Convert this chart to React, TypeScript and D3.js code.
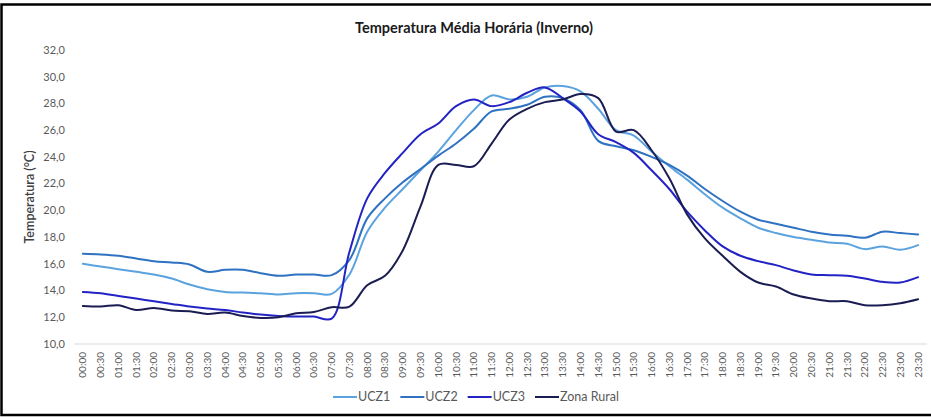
import React from 'react';
import * as d3 from 'd3';

const hours: string[] = [
  '00:00', '00:30', '01:00', '01:30', '02:00', '02:30', '03:00', '03:30',
  '04:00', '04:30', '05:00', '05:30', '06:00', '06:30', '07:00', '07:30',
  '08:00', '08:30', '09:00', '09:30', '10:00', '10:30', '11:00', '11:30',
  '12:00', '12:30', '13:00', '13:30', '14:00', '14:30', '15:00', '15:30',
  '16:00', '16:30', '17:00', '17:30', '18:00', '18:30', '19:00', '19:30',
  '20:00', '20:30', '21:00', '21:30', '22:00', '22:30', '23:00', '23:30',
];

const ucz1 = [
  16.0, 15.8, 15.6, 15.4, 15.2, 14.9, 14.45, 14.1, 13.9, 13.85, 13.8, 13.7,
  13.8, 13.8, 13.75, 15.2, 18.4, 20.2, 21.6, 23.0, 24.4, 26.0, 27.5, 28.6,
  28.3, 28.5, 29.2, 29.3, 28.9, 27.6, 26.0, 25.6, 24.4, 23.3, 22.3, 21.2,
  20.2, 19.4, 18.7, 18.3, 18.0, 17.8, 17.6, 17.5, 17.1, 17.3, 17.05, 17.4,
];

const ucz2 = [
  16.75, 16.7, 16.6, 16.4, 16.2, 16.1, 15.95, 15.4, 15.55, 15.55, 15.3, 15.1,
  15.2, 15.2, 15.15, 16.3, 19.4, 20.9, 22.1, 23.1, 24.1, 25.0, 26.1, 27.4,
  27.6, 27.9, 28.5, 28.4, 27.5, 25.2, 24.8, 24.5, 24.0, 23.4, 22.6, 21.6,
  20.7, 19.9, 19.3, 19.0, 18.7, 18.4, 18.2, 18.1, 17.95, 18.4, 18.3, 18.2,
];

const ucz3 = [
  13.9, 13.8, 13.6, 13.4, 13.2, 13.0, 12.8, 12.65, 12.55, 12.35, 12.2, 12.1,
  12.05, 12.05, 11.9, 16.9, 20.9, 22.8, 24.3, 25.7, 26.5, 27.8, 28.3, 27.8,
  28.1, 28.8, 29.2, 28.4, 27.4, 25.7, 25.1, 24.3, 23.0, 21.6, 19.9, 18.5,
  17.3, 16.6, 16.2, 15.9, 15.5, 15.2, 15.15, 15.1, 14.9, 14.65, 14.6, 15.0,
];

const zonaRural = [
  12.85, 12.8, 12.9, 12.55, 12.7, 12.5, 12.45, 12.25, 12.35, 12.1, 11.95, 12.0,
  12.3, 12.4, 12.75, 12.8, 14.4, 15.1, 17.0, 20.3, 23.4, 23.4, 23.3, 25.0,
  26.8, 27.6, 28.1, 28.3, 28.7, 28.4, 25.9, 26.0, 24.5, 22.4, 19.7, 17.9,
  16.6, 15.4, 14.6, 14.3, 13.7, 13.4, 13.2, 13.2, 12.9, 12.9, 13.05, 13.35,
];

const yTicks = [10, 12, 14, 16, 18, 20, 22, 24, 26, 28, 30, 32];

const series = [
  { name: 'UCZ1', values: ucz1, color: '#5ba3df' },
  { name: 'UCZ2', values: ucz2, color: '#2f72c2' },
  { name: 'UCZ3', values: ucz3, color: '#2323c4' },
  { name: 'Zona Rural', values: zonaRural, color: '#1b1d52' },
];

const W = 931;
const H = 417;
const plot = { left: 74, right: 927, top: 50, bottom: 344 };
const font = 'Lato, "Open Sans", sans-serif';

export default function App() {
  const x = d3.scaleBand<string>()
    .domain(hours)
    .range([plot.left, plot.right]);
  const cx = (h: string) => (x(h) ?? 0) + x.bandwidth() / 2;

  const y = d3.scaleLinear()
    .domain([10, 32])
    .range([plot.bottom, plot.top]);

  const line = d3.line<number>()
    .x((_, i) => cx(hours[i]))
    .y(d => y(d))
    .curve(d3.curveCatmullRom.alpha(0.5));

  // legend items laid out along a point scale, centred under the plot
  const legendX = d3.scalePoint<string>()
    .domain(series.map(s => s.name))
    .range([333, 535]);

  const fmt = (v: number) => v.toFixed(1).replace('.', ',');

  return (
    <svg
      width={W}
      height={H}
      style={{ position: 'absolute', left: 0, top: 0, background: '#fff', fontFamily: font }}
    >
      <rect x={0} y={0} width={W} height={H} fill="#fff" />

      {/* title */}
      <text x={474} y={33} textAnchor="middle" fontSize={14.5} fontWeight={700} fill="#1a1a1a">
        Temperatura  Média Horária (Inverno)
      </text>

      {/* y axis title */}
      <text
        transform={`translate(34,${(plot.top + plot.bottom) / 2}) rotate(-90)`}
        textAnchor="middle"
        fontSize={12.5}
        fontWeight={600}
        fill="#404040"
      >
        Temperatura (°C)
      </text>

      {/* y tick labels */}
      {yTicks.map(t => (
        <text key={t} x={65} y={y(t)} dy="0.35em" textAnchor="end" fontSize={11} fill="#595959">
          {fmt(t)}
        </text>
      ))}

      {/* baseline */}
      <line x1={plot.left} x2={plot.right} y1={y(10)} y2={y(10)} stroke="#d9d9d9" strokeWidth={1} />

      {/* x tick labels */}
      {hours.map(h => (
        <text
          key={h}
          transform={`translate(${cx(h) + 3.5},${plot.bottom + 8}) rotate(-90)`}
          textAnchor="end"
          fontSize={10}
          fill="#595959"
        >
          {h}
        </text>
      ))}

      {/* series */}
      {series.map(s => (
        <path
          key={s.name}
          d={line(s.values) ?? ''}
          fill="none"
          stroke={s.color}
          strokeWidth={2}
          strokeLinejoin="round"
          strokeLinecap="round"
        />
      ))}

      {/* legend */}
      {series.map(s => {
        const lx = legendX(s.name) ?? 0;
        return (
          <g key={s.name}>
            <line x1={lx} x2={lx + 24} y1={397} y2={397} stroke={s.color} strokeWidth={2} />
            <text x={lx + 25} y={397} dy="0.35em" fontSize={12.5} fill="#595959">
              {s.name}
            </text>
          </g>
        );
      })}

      {/* outer frame */}
      <rect x={1.5} y={4.5} width={W + 10} height={410.5} fill="none" stroke="#000" strokeWidth={2.5} />
    </svg>
  );
}
